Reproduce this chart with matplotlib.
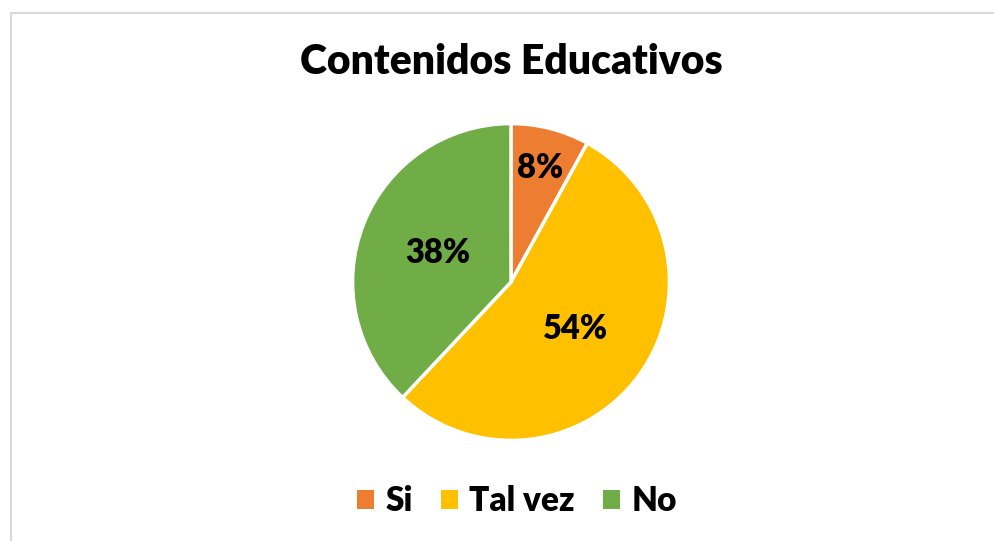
import numpy as np
import matplotlib.pyplot as plt
from matplotlib.patches import Patch, Rectangle

categories = ["Si", "Tal vez", "No"]
values = [8, 54, 38]
colors = ["#ED7D31", "#FFC000", "#70AD47"]
label_dist = [0.74, 0.5, 0.5]

plt.rcParams['font.family'] = ['Lato', 'DejaVu Sans']

fig = plt.figure(figsize=(9.94, 5.41), dpi=100)

# light frame of the chart area (cut off at right/bottom)
fig.patches.append(Rectangle((10.5 / 994, -0.1), 1.2, (541 - 12.5) / 541 + 0.1,
                             transform=fig.transFigure, fill=False,
                             edgecolor="#D9D9D9", linewidth=1.5))

ax = fig.add_axes([(511 - 160) / 994, (541 - 442) / 541, 320 / 994, 320 / 541])
wedges, _ = ax.pie(values, colors=colors, startangle=90, counterclock=False,
                   wedgeprops=dict(edgecolor="white", linewidth=2.5))
ax.set_xlim(-1.01, 1.01)
ax.set_ylim(-1.01, 1.01)
ax.set_aspect("equal")

for w, v, d in zip(wedges, values, label_dist):
    ang = np.deg2rad((w.theta1 + w.theta2) / 2)
    ax.text(d * np.cos(ang), d * np.sin(ang), "{}%".format(v),
            ha="center", va="center", fontsize=23.5, fontweight="heavy")

fig.text(511 / 994, (541 - 62) / 541, "Contenidos Educativos",
         ha="center", va="center", fontsize=29.4, fontweight="heavy")

handles = [Patch(facecolor=c, edgecolor="none") for c in colors]
fig.legend(handles, categories, loc="center", bbox_to_anchor=(517 / 994, (541 - 501) / 541),
           ncol=3, frameon=False, prop=dict(size=24, weight="heavy"),
           handlelength=0.5, handleheight=0.5, handletextpad=0.35, columnspacing=0.85)

fig.savefig("out.png", dpi=100)
